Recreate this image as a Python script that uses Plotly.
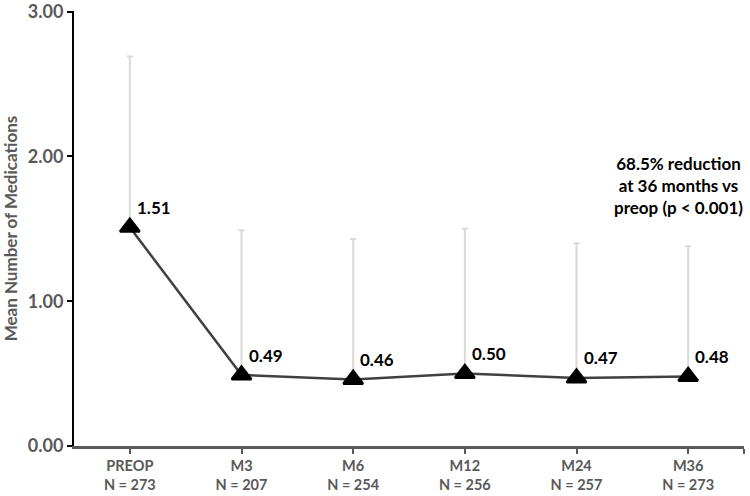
import plotly.graph_objects as go

categories = ["PREOP", "M3", "M6", "M12", "M24", "M36"]
n_labels = ["N = 273", "N = 207", "N = 254", "N = 256", "N = 257", "N = 273"]
means = [1.51, 0.49, 0.46, 0.50, 0.47, 0.48]
upper = [2.69, 1.49, 1.43, 1.50, 1.40, 1.38]
y_ticks = [0, 1, 2, 3]
y_ticktext = ["0.00", "1.00", "2.00", "3.00"]
note_text = "68.5% reduction<br>at 36 months vs<br>preop (p < 0.001)"

FONT = "Lato"
GRAY = "#595959"

x = list(range(len(categories)))
err_plus = [u - m for u, m in zip(upper, means)]

fig = go.Figure()
fig.add_trace(go.Scatter(
    x=x, y=means, mode="markers",
    marker=dict(size=1, color="rgba(0,0,0,0)"),
    error_y=dict(type="data", symmetric=False, array=err_plus,
                 arrayminus=[0] * len(means), color="#d9d9d9",
                 thickness=2, width=3),
    hoverinfo="skip", showlegend=False,
))
fig.add_trace(go.Scatter(
    x=x, y=means, mode="lines+markers",
    line=dict(color="#404040", width=2.5),
    marker=dict(symbol="triangle-up", size=17, color="black",
                line=dict(color="black", width=2.5)),
    showlegend=False,
))

for xi, m in zip(x, means):
    fig.add_annotation(x=xi, y=m, text=f"<b>{m:.2f}</b>", showarrow=False,
                       xshift=24, yshift=20,
                       font=dict(family=FONT, size=17, color="black"))

fig.add_annotation(xref="paper", yref="paper", x=0.902, y=0.6,
                   text=f"<b>{note_text}</b>", showarrow=False,
                   align="center", xanchor="center", yanchor="middle",
                   font=dict(family=FONT, size=17, color="black"))

fig.update_layout(
    width=750, height=496,
    margin=dict(l=74, r=6, t=11, b=50),
    plot_bgcolor="white", paper_bgcolor="white",
    font=dict(family=FONT, color=GRAY),
)
fig.update_xaxes(
    range=[-0.5, 5.5], tickmode="array", tickvals=x,
    ticktext=[f"<b>{c}</b><br><b>{n}</b>" for c, n in zip(categories, n_labels)],
    tickfont=dict(family=FONT, size=14.5, color=GRAY),
    showline=True, linecolor=GRAY, linewidth=2.5,
    ticks="outside", ticklen=5, tickwidth=2, tickcolor=GRAY,
    minor=dict(tickvals=[5.5], ticks="outside", ticklen=5, tickwidth=2,
               tickcolor=GRAY),
    showgrid=False, zeroline=False, automargin=False,
)
fig.update_yaxes(
    range=[0, 3.004], tickmode="array", tickvals=y_ticks,
    ticktext=[f"<b>{t}</b>" for t in y_ticktext],
    tickfont=dict(family=FONT, size=18, color=GRAY),
    ticklabeloverflow="allow",
    title=dict(text="<b>Mean Number of Medications</b>",
               font=dict(family=FONT, size=17, color=GRAY), standoff=6),
    showline=True, linecolor="black", linewidth=2,
    ticks="outside", ticklen=5, tickwidth=2, tickcolor="black",
    showgrid=False, zeroline=False, automargin=False,
)

fig.write_html("out.html", config={"displayModeBar": False},
               post_script="document.body.style.margin='0';")
